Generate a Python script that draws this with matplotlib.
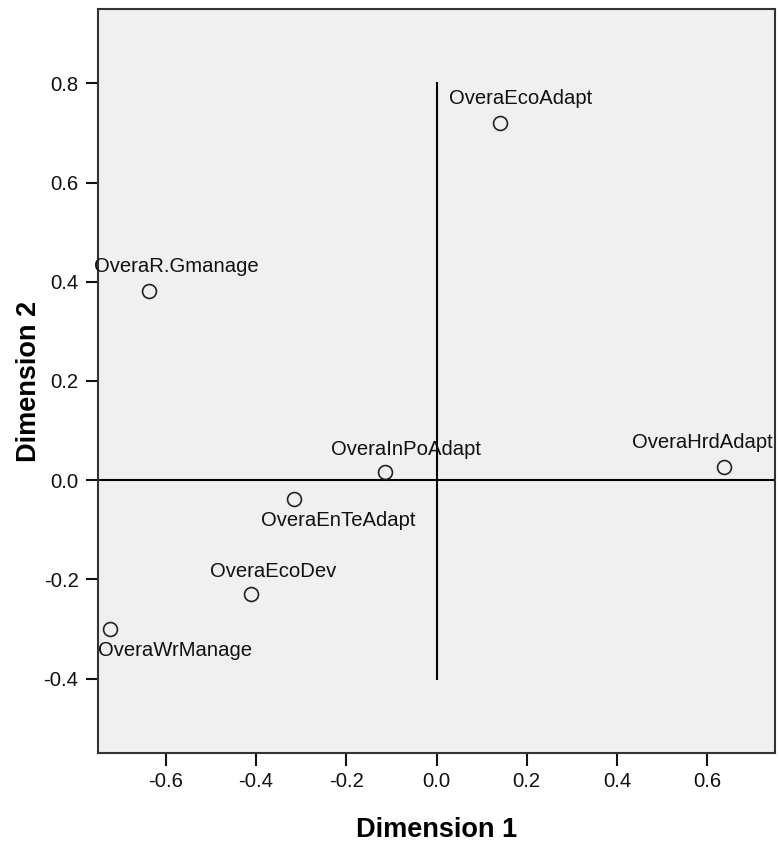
import matplotlib.pyplot as plt

plt.rcParams['font.family'] = ['Liberation Sans', 'DejaVu Sans']

# Coordenadas de las categorías (dimensiones 1 y 2)
labels = ['OveraEcoAdapt', 'OveraR.Gmanage', 'OveraInPoAdapt', 'OveraHrdAdapt',
          'OveraEnTeAdapt', 'OveraEcoDev', 'OveraWrManage']
dim1 = [0.141, -0.638, -0.115, 0.638, -0.316, -0.410, -0.724]
dim2 = [0.720, 0.382, 0.016, 0.026, -0.038, -0.229, -0.300]
# desplazamiento de cada etiqueta respecto a su punto (pixeles)
offsets = [(20, 25), (28, 24), (21, 23), (-22, 25), (44, -21), (22, 22), (65, -22)]

xticks = [-0.6, -0.4, -0.2, 0.0, 0.2, 0.4, 0.6]
yticks = [-0.4, -0.2, 0.0, 0.2, 0.4, 0.6, 0.8]

fig = plt.figure(figsize=(7.79, 8.48), dpi=100)
ax = fig.add_axes([98 / 779, 1 - 753 / 848, 677 / 779, 744 / 848])
ax.set_facecolor('#f0f0f0')

ax.set_xlim(-0.75, 0.75)
ax.set_ylim(-0.55, 0.95)

# Lineas de referencia
ax.axhline(0, color='black', lw=1.5, zorder=1)
ax.plot([0, 0], [-0.4, 0.8], color='black', lw=1.5, zorder=1)

ax.plot(dim1, dim2, 'o', ms=10, mfc='none', mec='#222222', mew=1.2, zorder=3)
for lab, x, y, off in zip(labels, dim1, dim2, offsets):
    ax.annotate(lab, (x, y), xytext=off, textcoords='offset pixels',
                ha='center', va='center', fontsize=14.6, color='#111111')

ax.set_xticks(xticks)
ax.set_yticks(yticks)
ax.set_xticklabels([f'{t:.1f}' for t in xticks])
ax.set_yticklabels([f'{t:.1f}' for t in yticks])
ax.tick_params(direction='out', length=9, width=1.5, labelsize=14.6,
               colors='#111111', pad=5)
for s in ax.spines.values():
    s.set_linewidth(1.5)
    s.set_color('#333333')

ax.set_xlabel('Dimension 1', fontsize=19.5, fontweight='bold')
ax.set_ylabel('Dimension 2', fontsize=19.5, fontweight='bold')
ax.xaxis.set_label_coords(0.5, -0.086)
ax.yaxis.set_label_coords(-0.083, 0.5)

plt.savefig('out.png', dpi=100)
